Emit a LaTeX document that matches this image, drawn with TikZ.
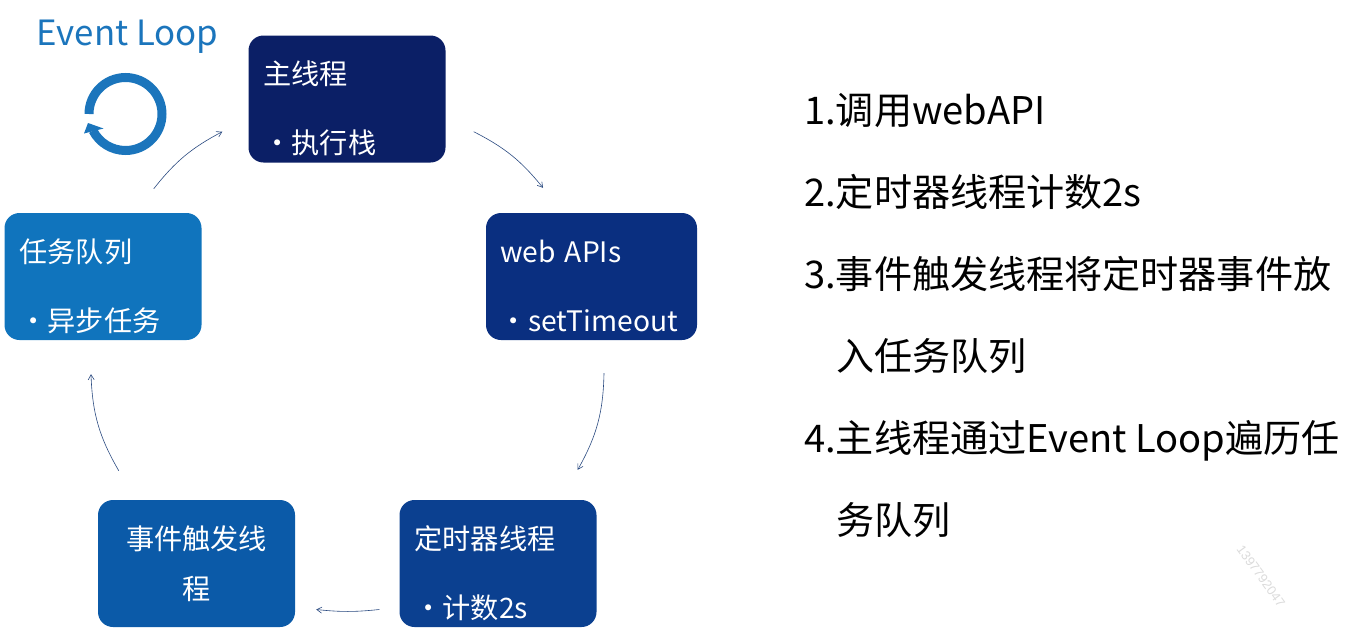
\documentclass[tikz,border=0pt]{standalone}
\usepackage{fontspec}
\setmainfont{Noto Sans CJK SC}
\setsansfont{Liberation Sans}
\definecolor{mainblue}{HTML}{0B1F66}
\definecolor{webblue}{HTML}{0A2F80}
\definecolor{timerblue}{HTML}{0B4090}
\definecolor{eventblue}{HTML}{0B5AA8}
\definecolor{queueblue}{HTML}{1074BD}
\definecolor{loopblue}{HTML}{1B75BC}
\definecolor{arrowblue}{HTML}{2A4A80}
\newcommand{\dotitem}[1]{\hspace*{-0.5pt}·\hspace{0.5pt}#1}
\tikzset{
	flowbox/.style={rounded corners=15pt,text=white,inner sep=0pt,inner xsep=15pt,text width=167pt,align=left,text height=49pt,text depth=78pt,font=\fontsize{28.2}{69}\selectfont},
	flowarrow/.style={-{Straight Barb[length=5pt,width=6pt]},draw=arrowblue,line width=0.6pt},
	listline/.style={anchor=base west,inner sep=0pt,font=\fontsize{38.1}{40}\selectfont}
}
\usetikzlibrary{arrows.meta}
\begin{document}
\begin{tikzpicture}[x=1pt,y=-1pt]
	\useasboundingbox (0,0) rectangle (1364,635);
	\node[flowbox,fill=mainblue] (main) at (347,99) {主线程\\\dotitem{执行栈}};
	\node[flowbox,fill=webblue,inner xsep=14pt,text width=183pt] (web) at (591.5,276.5) {web APIs\\\dotitem{setTimeout}};
	\node[flowbox,fill=timerblue] (timer) at (498,563.5) {定时器线程\\\dotitem{计数2s}};
	\node[flowbox,fill=queueblue] (queue) at (103,276.5) {任务队列\\\dotitem{异步任务}};
	\node[rounded corners=15pt,fill=eventblue,text=white,minimum width=197pt,minimum height=127pt,align=center,font=\fontsize{28.2}{50}\selectfont] (event) at (196.5,563.5) {事件触发线\\程};

	\draw[flowarrow] ([shift={(28,-31)}]main.south east) to[bend left=12] ([shift={(-48.5,-25)}]web.north);
	\draw[flowarrow] ([shift={(12.5,33)}]web.south) to[bend left=14] ([shift={(-19,-30)}]timer.north east);
	\draw[flowarrow] ([shift={(-20,46)}]timer.west) to[bend left=6] ([shift={(21,46)}]event.east);
	\draw[flowarrow] ([shift={(21,-29)}]event.north west) to[bend left=14] ([shift={(-12,34)}]queue.south);
	\draw[flowarrow] ([shift={(-48,-24)}]queue.north east) to[bend left=12] ([shift={(-26,-31)}]main.south west);

	\node[anchor=base west,inner sep=0pt,text=loopblue,font=\fontsize{34.8}{40}\selectfont] (title) at (36.5,45) {Event Loop};
	\draw[loopblue,line width=9pt] (89,114) arc[start angle=180,end angle=-153,radius=36.5pt];
	\fill[loopblue] (88,123) -- (103.5,128.5) -- (84,133.5) -- cycle;

	\node[listline] (one) at (804,124.5) {1.调用webAPI};
	\node[listline] (two) at (804,206.5) {2.定时器线程计数2s};
	\node[listline] (three) at (804,288.5) {3.事件触发线程将定时器事件放};
	\node[listline] (threeb) at (836,370.5) {入任务队列};
	\node[listline] (four) at (804,452.5) {4.主线程通过Event Loop遍历任};
	\node[listline] (fourb) at (836,534.5) {务队列};

	\node[rotate=-54,text=black!14,font=\sffamily\fontsize{13}{15}\selectfont,inner sep=0pt] (mark) at (1261,576) {1397792047};
\end{tikzpicture}
\end{document}
